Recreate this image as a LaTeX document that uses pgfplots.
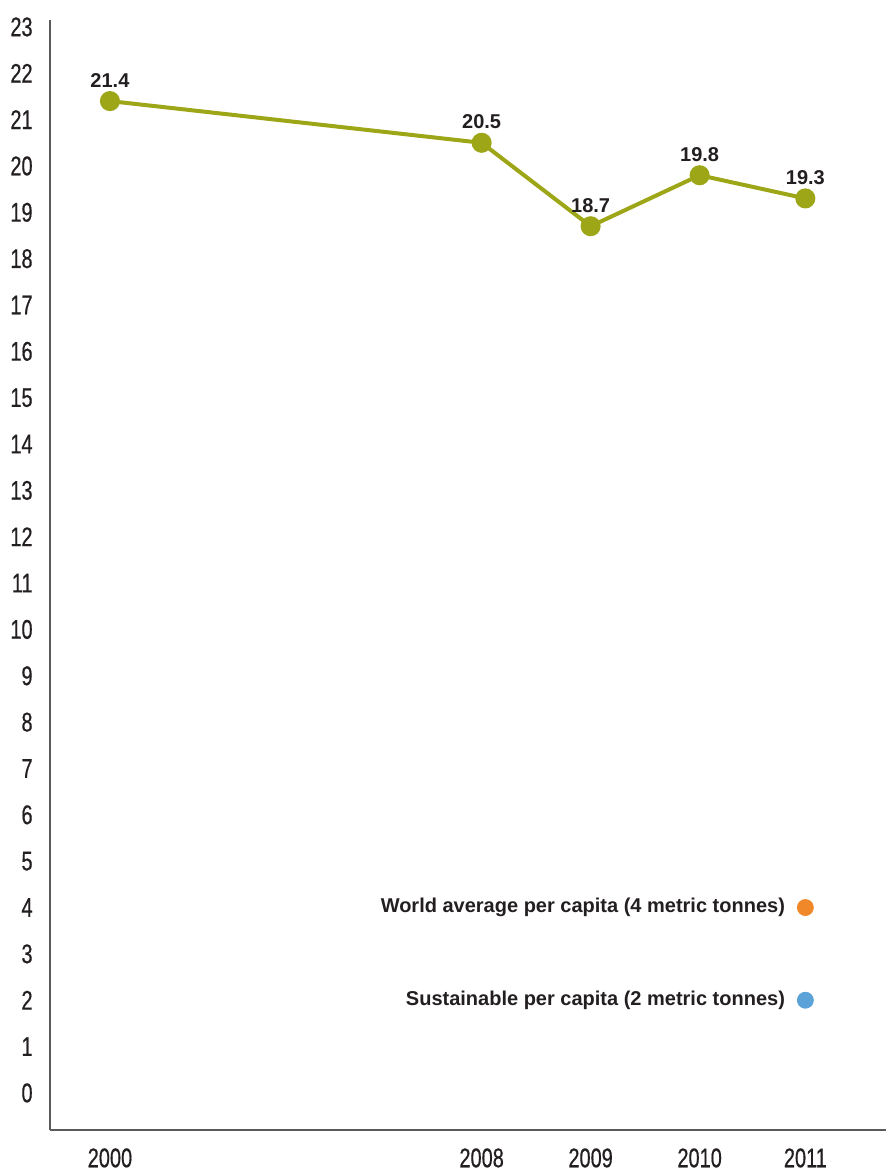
\documentclass[border=0pt]{standalone}
\usepackage{pgfplots}
\pgfplotsset{compat=1.18}
\usepackage{fontspec}
\setmainfont{Liberation Sans}
\newfontfamily\condfont[FakeStretch=0.74, FakeBold=0.5]{Liberation Sans}
\usetikzlibrary{calc}
\definecolor{olivegreen}{RGB}{157,166,22}
\definecolor{worldorange}{RGB}{240,135,40}
\definecolor{sustblue}{RGB}{90,162,215}
\definecolor{axisgray}{RGB}{90,90,90}
\definecolor{txt}{RGB}{35,31,32}
\begin{document}
\begin{tikzpicture}
\begin{axis}[name=ax, scale only axis, width=418pt, height=555pt,
  xmin=-0.55, xmax=7.12, ymin=-0.8, ymax=23.15,
  axis lines=left, axis line style={axisgray, line width=0.8pt, -},
  /pgf/number format/assume math mode=true,
  ytick={0,1,...,23}, major tick length=0pt, tick style={draw=none},
  xtick={0,3.41,4.41,5.41,6.38}, xticklabels={2000,2008,2009,2010,2011},
  yticklabel style={font=\condfont\fontsize{13.5}{13.5}\selectfont, text=txt, anchor=east, inner sep=0pt, xshift=-8.5pt},
  xticklabel style={font=\condfont\fontsize{13.5}{13.5}\selectfont, text=txt, anchor=north, inner sep=0pt, yshift=-9pt},
  clip=false]
\addplot[olivegreen, line width=2pt, mark=*, mark size=4pt, mark options={fill=olivegreen, draw=olivegreen},
  nodes near coords={\pgfmathprintnumber[fixed,fixed zerofill,precision=1]{\pgfplotspointmeta}},
  nodes near coords style={font=\bfseries\fontsize{10}{11}\selectfont, text=txt, anchor=south, inner sep=0pt, yshift=6pt}]
  coordinates {(0,21.4) (3.41,20.5) (4.41,18.7) (5.41,19.8) (6.38,19.3)};
\addplot[only marks, mark=*, mark size=4pt, color=worldorange, mark options={fill=worldorange, draw=worldorange},
  nodes near coords={World average per capita (4 metric tonnes)},
  nodes near coords style={font=\bfseries\fontsize{10}{11}\selectfont, text=txt, anchor=east, inner sep=0pt, xshift=-10pt}]
  coordinates {(6.38,4)};
\addplot[only marks, mark=*, mark size=4pt, color=sustblue, mark options={fill=sustblue, draw=sustblue},
  nodes near coords={Sustainable per capita (2 metric tonnes)},
  nodes near coords style={font=\bfseries\fontsize{10}{11}\selectfont, text=txt, anchor=east, inner sep=0pt, xshift=-10pt}]
  coordinates {(6.38,2)};
\end{axis}
\pgfresetboundingbox
\path[use as bounding box] ($(ax.south west)+(-25pt,-20pt)$) rectangle ($(ax.north east)+(0pt,10pt)$);
\end{tikzpicture}
\end{document}
